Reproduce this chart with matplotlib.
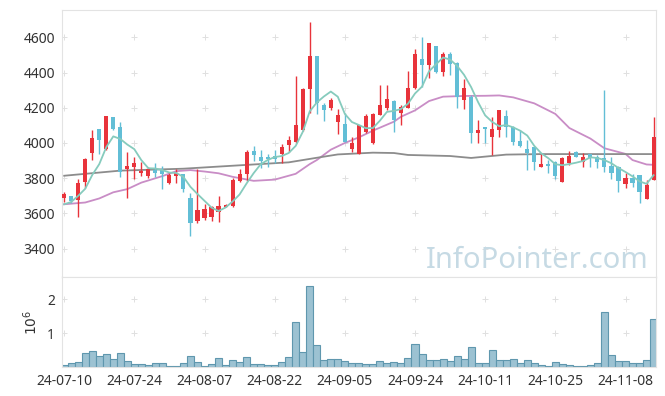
import matplotlib
matplotlib.use("Agg")
import matplotlib.pyplot as plt
import numpy as np
import pandas as pd

plt.rcParams['font.family'] = ['Noto Sans', 'DejaVu Sans']

# trading days (KRX holidays skipped)
holidays = ['2024-08-15', '2024-09-16', '2024-09-17', '2024-09-18',
            '2024-10-01', '2024-10-03', '2024-10-09']
dates = pd.bdate_range('2024-07-10', periods=85, freq='C', holidays=holidays)

opens = [3686, 3697, 3675, 3780, 3945, 4079, 3964, 4147, 4091, 3854,
         3865, 3831, 3814, 3847, 3848, 3774, 3814, 3824, 3686, 3557,
         3576, 3581, 3608, 3638, 3644, 3786, 3826, 3954, 3920, 3919,
         3924, 3937, 3990, 4006, 4075, 4305, 4494, 4217, 4200, 4121,
         4106, 3966, 3939, 4061, 3998, 4159, 4200, 4237, 4168, 4200,
         4310, 4477, 4443, 4551, 4405, 4505, 4454, 4246, 4263, 4058,
         4089, 4036, 4074, 4153, 4093, 4011, 3964, 3975, 3865, 3881,
         3894, 3780, 3888, 3950, 3894, 3937, 3922, 3913, 3869, 3866,
         3765, 3799, 3816, 3680, 3790]
highs = [3720, 3701, 3794, 3916, 4072, 4080, 4155, 4150, 4117, 3948,
         3918, 3890, 3865, 3885, 3868, 3830, 3850, 3825, 3714, 3850,
         3652, 3640, 3700, 3652, 3799, 3850, 3960, 3981, 3958, 3935,
         3958, 3995, 4040, 4380, 4310, 4687, 4494, 4229, 4257, 4195,
         4168, 4032, 4102, 4165, 4172, 4327, 4329, 4244, 4214, 4409,
         4534, 4602, 4570, 4553, 4517, 4517, 4460, 4362, 4272, 4130,
         4092, 4146, 4190, 4187, 4095, 4074, 4017, 3978, 3937, 3903,
         3900, 3922, 3954, 3955, 3945, 3937, 3930, 4301, 3919, 3870,
         3831, 3824, 3820, 3790, 4146]
lows = [3663, 3661, 3581, 3743, 3905, 3935, 3960, 4075, 3805, 3686,
        3795, 3812, 3800, 3809, 3740, 3765, 3774, 3720, 3472, 3544,
        3563, 3557, 3553, 3635, 3638, 3780, 3786, 3899, 3856, 3865,
        3885, 3885, 3947, 4002, 4070, 4172, 4165, 4125, 4187, 4053,
        4005, 3949, 3935, 4058, 3995, 4159, 4187, 4064, 4100, 4198,
        4308, 4320, 4367, 4400, 4382, 4386, 4200, 4193, 3998, 3998,
        4000, 3932, 4036, 4036, 3988, 3980, 3847, 3847, 3862, 3828,
        3794, 3780, 3875, 3918, 3862, 3866, 3860, 3838, 3794, 3723,
        3743, 3752, 3661, 3680, 3788]
closes = [3709, 3672, 3773, 3909, 4028, 4017, 4153, 4081, 3835, 3869,
          3886, 3841, 3852, 3828, 3822, 3818, 3828, 3739, 3547, 3619,
          3625, 3635, 3642, 3647, 3788, 3826, 3949, 3932, 3899, 3911,
          3909, 3979, 4017, 4102, 4306, 4494, 4229, 4187, 4244, 4159,
          4007, 3999, 4102, 4153, 4164, 4216, 4248, 4130, 4206, 4314,
          4507, 4443, 4566, 4405, 4505, 4450, 4263, 4310, 4058, 4075,
          4078, 4078, 4187, 4093, 4007, 3983, 3941, 3894, 3881, 3869,
          3812, 3913, 3926, 3922, 3919, 3913, 3894, 3866, 3831, 3786,
          3799, 3771, 3723, 3761, 4032]
# closes of the 4 sessions before the window (for the 5-day average)
prior_closes = [3607, 3598, 3709, 3637]

# volume, millions of shares
volumes = [0.07, 0.12, 0.155, 0.41, 0.48, 0.32, 0.38, 0.24, 0.41, 0.185,
           0.09, 0.09, 0.06, 0.12, 0.12, 0.03, 0.03, 0.12, 0.32, 0.155,
           0.03, 0.09, 0.26, 0.07, 0.21, 0.155, 0.29, 0.09, 0.09, 0.07,
           0.07, 0.155, 0.29, 1.32, 0.45, 2.39, 0.65, 0.21, 0.23, 0.23,
           0.185, 0.14, 0.12, 0.09, 0.09, 0.185, 0.12, 0.155, 0.12, 0.26,
           0.69, 0.38, 0.21, 0.21, 0.23, 0.185, 0.32, 0.23, 0.59, 0.14,
           0.14, 0.5, 0.21, 0.21, 0.23, 0.12, 0.21, 0.14, 0.06, 0.03,
           0.17, 0.09, 0.06, 0.03, 0.03, 0.06, 0.12, 1.62, 0.35, 0.185,
           0.185, 0.12, 0.14, 0.21, 1.41]

# 20-day and 60-day averages (session index, value)
ma20_idx = [0, 3, 5, 7, 9, 11, 14, 16, 18, 20, 22, 24, 27, 30, 33, 35, 36, 38, 40,
            42, 44, 47, 48, 50, 52, 54, 57, 60, 62, 64, 67, 70, 72, 75, 77, 80, 81, 83, 84]
ma20_val = [3652, 3662, 3685, 3720, 3738, 3775, 3812, 3840, 3846, 3838, 3828, 3808, 3785,
            3792, 3825, 3880, 3903, 3962, 4000, 4032, 4070, 4121, 4149, 4185, 4238, 4263,
            4267, 4268, 4270, 4259, 4225, 4165, 4085, 4025, 3970, 3938, 3903, 3878, 3876]
ma60_idx = [0, 8, 17, 22, 32, 36, 39, 44, 47, 49, 55, 58, 63, 68, 76, 84]
ma60_val = [3814, 3843, 3854, 3866, 3890, 3916, 3935, 3945, 3943, 3932,
            3926, 3915, 3934, 3937, 3937, 3937]

up_col = '#e8333b'
down_col = '#62bed6'

x = np.arange(len(closes))
o = np.array(opens)
c = np.array(closes)
up = c >= o
cols = np.where(up, up_col, down_col)

ma5 = pd.Series(prior_closes + closes).rolling(5).mean().values[len(prior_closes):]

fig = plt.figure(figsize=(6.65, 3.96), dpi=100)
ax = fig.add_axes([0.0928, 0.3005, 0.8937, 0.6742])
axv = fig.add_axes([0.0928, 0.0725, 0.8937, 0.228], sharex=ax)

xticks = np.arange(0, 85, 10)
yticks = np.arange(3400, 4601, 200)

# plus-mark grid
gx, gy = np.meshgrid(xticks, yticks)
ax.plot(gx.ravel(), gy.ravel(), '+', color='#e0e0e0', ms=4.5, mew=0.7, zorder=0)
gx, gy = np.meshgrid(xticks, [1, 2])
axv.plot(gx.ravel(), gy.ravel(), '+', color='#e0e0e0', ms=4.5, mew=0.7, zorder=0)

# candles
ax.vlines(x, lows, highs, colors=cols, lw=1.0, zorder=2)
ax.bar(x, np.maximum(np.abs(c - o), 3), bottom=np.minimum(o, c), width=0.58,
       color=cols, zorder=3)

ax.plot(x, ma5, color='#86cbbd', lw=1.3, zorder=4)
ax.plot(ma20_idx, ma20_val, color='#c98dc6', lw=1.3, zorder=1)
ax.plot(ma60_idx, ma60_val, color='#8c8c8c', lw=1.3, zorder=1)

ax.text(0.987, 0.033, 'InfoPointer.com', transform=ax.transAxes, ha='right', va='baseline',
        fontsize=21, color='#c6dae4', zorder=0)

ax.set_xlim(-0.35, 84.35)
ax.set_ylim(3239, 4755)
ax.set_yticks(yticks)
ax.tick_params(axis='x', labelbottom=False, length=0)

# volume
axv.bar(x, volumes, width=1.0, color='#9cc2d2', edgecolor='#5f97ae', lw=0.8, zorder=2)
axv.set_ylim(0, 2.66)
axv.set_yticks([1, 2])
axv.set_ylabel('$10^6$', fontsize=10, color='#333333', labelpad=4)
axv.set_xticks(xticks)
axv.set_xticklabels([dates[i].strftime('%y-%m-%d') for i in xticks])

for a in (ax, axv):
    for s in a.spines.values():
        s.set_color('#e3e3e3')
    a.tick_params(length=0, labelsize=10, colors='#333333', pad=5)

fig.savefig('out.png', dpi=100)
